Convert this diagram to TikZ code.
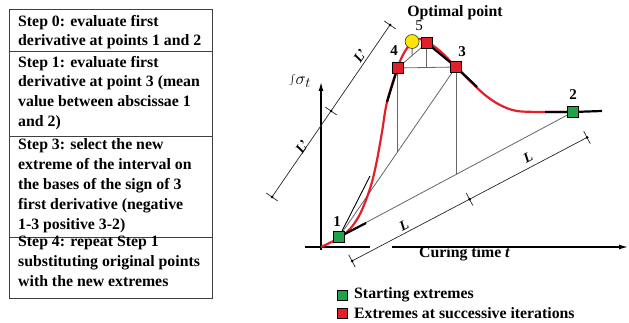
\documentclass[tikz,border=0pt]{standalone}
\usepackage{fontspec}
\setmainfont{Liberation Serif}
\usetikzlibrary{calc,arrows.meta}
\definecolor{myred}{HTML}{E3202A}
\definecolor{mygreen}{HTML}{1FA34A}
\definecolor{myyellow}{HTML}{FFE600}
\newcommand\dimtick[2]{\draw[dimline] ($(#1)!7pt!90:(#2)$) -- ($(#1)!7pt!-90:(#2)$); \fill (#1) circle (1.5pt);}
\begin{document}
\begin{tikzpicture}[x=1pt,y=-1pt,
  tbl/.style={draw=black!75, line width=1pt},
  steptext/.style={anchor=north west, inner sep=0pt, align=left, font=\fontsize{15.8}{19.8}\selectfont\bfseries},
  chord/.style={draw=black!60, line width=0.8pt},
  dimline/.style={draw=black!85, line width=0.7pt},
  curvestyle/.style={draw=myred, line width=2.2pt},
  tang/.style={draw=black, line width=2.2pt},
  sq/.style={draw=black, line width=0.6pt, minimum size=11pt, inner sep=0pt},
  gsq/.style={sq, fill=mygreen},
  rsq/.style={sq, fill=myred},
  numlbl/.style={font=\fontsize{15}{15}\selectfont\bfseries, inner sep=0pt},
  dimlbl/.style={font=\fontsize{14}{14}\selectfont\bfseries\itshape, inner sep=0pt},
  legtext/.style={anchor=west, inner sep=0pt, font=\fontsize{15.8}{16}\selectfont\bfseries},
  axis/.style={draw=black, line width=1.3pt}
]
\useasboundingbox (0,0) rectangle (629,323);

% ---------- table ----------
\draw[tbl] (9,10) rectangle (212,298);
\draw[tbl] (9,52) -- (212,52);
\draw[tbl] (9,137) -- (212,137);
\draw[tbl] (9,237) -- (212,237);
\node[steptext] (s0) at (18,14.8) {Step 0: evaluate first\\derivative at points 1 and 2};
\node[steptext] (s1) at (18,55.8) {Step 1: evaluate first\\derivative at point 3 (mean\\value between abscissae 1\\and 2)};
\node[steptext] (s3) at (18,138.8) {Step 3: select the new\\extreme of the interval on\\the bases of the sign of 3\\first derivative (negative\\1-3 positive 3-2)};
\node[steptext] (s4) at (18,235.8) {Step 4: repeat Step 1\\substituting original points\\with the new extremes};

% ---------- axes ----------
\coordinate (Ytop) at (321,82);
\coordinate (Ybot) at (321,250);
\coordinate (Xa) at (305,247);
\coordinate (Xb) at (370,247);
\coordinate (Xc) at (392,247);
\coordinate (Xd) at (628,247);
\draw[axis, -{Latex[length=9pt,width=5pt]}] (Ybot) -- (Ytop);
\draw[axis] (Xa) -- (Xb);
\draw[axis, -{Latex[length=9pt,width=5pt]}] (Xc) -- (Xd);
\node[font=\fontsize{19}{19}\selectfont, inner sep=0pt] (ylab) at (300,81) {$\int\!\sigma_t$};
\node[legtext] (xlab) at (419,254) {Curing time \textit{t}};

% ---------- points ----------
\coordinate (P1) at (339,237);
\coordinate (P2) at (573,112);
\coordinate (P3) at (456,67);
\coordinate (P4) at (397.5,68);
\coordinate (P6) at (426.75,43);
\coordinate (P5) at (412.1,41.5);
\coordinate (F3) at ($(P1)!.5!(P2)$);
\coordinate (F4) at ($(P1)!.5!(P3)$);
\coordinate (F6) at ($(P4)!.5!(P3)$);
\coordinate (F5) at ($(P4)!.5!(P6)$);

% ---------- chords ----------
\draw[chord] (P1) -- (P2);
\draw[chord] (P1) -- (P3);
\draw[chord] (P4) -- (P3);
\draw[chord] (P4) -- (P6);
\draw[chord] (P3) -- (F3);
\draw[chord] (P4) -- (F4);
\draw[chord] (P6) -- (F6);
\draw[chord] (P5) -- (F5);

% ---------- curve ----------
\draw[curvestyle] plot[smooth, tension=0.55] coordinates {(321,247) (339,238) (350,229) (359,216) (366,200) (372,182) (377,160) (382,132) (387,102) (397.5,68) (404,53) (412.1,42) (419,39) (426.75,41.5) (440,51) (456,67) (470,81) (485,95) (500,105) (517,111) (545,112) (573,112)};

% ---------- tangents ----------
\coordinate (T4) at (387,102);
\coordinate (T3) at (477,87);
\coordinate (T2a) at (545,112);
\coordinate (T2b) at (602,111);
\coordinate (T1a) at (366,223);
\coordinate (T1b) at (370,176);
\draw[tang] (T4) -- (P4);
\draw[tang] (P6) -- (P3) -- (T3);
\draw[tang] (T2a) -- (P2) -- (T2b);
\draw[tang] (P1) -- (T1a);
\draw[draw=black, line width=0.9pt] (P1) -- (T1b);

% ---------- dimension lines ----------
\coordinate (E1) at (272,197);
\coordinate (E2) at (390,25);
\coordinate (EM) at ($(E1)!.5!(E2)$);
\draw[dimline] (E1) -- (E2);
\node[dimlbl, rotate=55.6] (lp1) at (302,147) {L'};
\node[dimlbl, rotate=55.6] (lp2) at (360,56) {L'};
\dimtick{E1}{E2}
\dimtick{E2}{E1}
\dimtick{EM}{E2}

\coordinate (D1) at (352,261);
\coordinate (D2) at (587,137.5);
\coordinate (DM) at ($(D1)!.5!(D2)$);
\draw[dimline] (D1) -- (D2);
\node[dimlbl, rotate=27.7] (l1) at (404,225) {L};
\node[dimlbl, rotate=27.7] (l2) at (528,157) {L};
\dimtick{D1}{D2}
\dimtick{D2}{D1}
\dimtick{DM}{D2}

% ---------- markers ----------
\node[gsq] (m1) at (P1) {};
\node[gsq] (m2) at (P2) {};
\node[rsq] (m3) at (P3) {};
\node[rsq] (m4) at (P4) {};
\node[rsq] (m6) at (P6) {};
\node[circle, draw=black!80, line width=0.6pt, fill=myyellow, minimum size=14pt, inner sep=0pt] (m5) at (P5) {};

\node[numlbl] (n1) at (337,222) {1};
\node[numlbl] (n2) at (573,95) {2};
\node[numlbl] (n3) at (462,52) {3};
\node[numlbl] (n4) at (394,51) {4};
\node[font=\fontsize{15}{15}\selectfont, inner sep=0pt] (n5) at (419,26) {5};
\node[font=\fontsize{15.8}{16}\selectfont\bfseries, inner sep=0pt] (opt) at (455,13) {Optimal point};

% ---------- legend ----------
\node[gsq, minimum size=10pt] (lg) at (342,295) {};
\node[legtext] (lgt) at (354,295) {Starting extremes};
\node[rsq, minimum size=10pt] (lr) at (342,313) {};
\node[legtext] (lrt) at (354,313) {Extremes at successive iterations};
\end{tikzpicture}
\end{document}
